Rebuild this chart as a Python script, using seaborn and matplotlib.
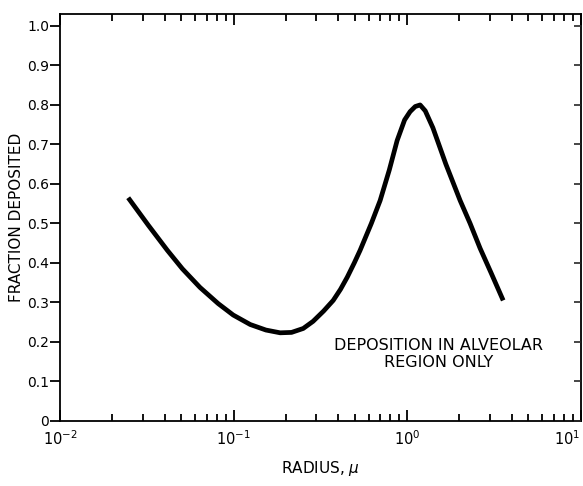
import matplotlib
matplotlib.use("Agg")
import matplotlib.pyplot as plt
import matplotlib.ticker as mticker
import seaborn as sns
import pandas as pd

# Data
radius = [0.0247, 0.0323, 0.0415, 0.0507, 0.064, 0.0815, 0.0995, 0.1247, 0.1536, 0.1855,
          0.2157, 0.252, 0.287, 0.330, 0.375, 0.413, 0.452, 0.496, 0.536, 0.622,
          0.699, 0.789, 0.876, 0.967, 1.04, 1.114, 1.188, 1.272, 1.408, 1.672,
          2.02, 2.306, 2.633, 3.045, 3.577]
fraction = [0.565, 0.495, 0.432, 0.385, 0.338, 0.297, 0.268, 0.244, 0.23, 0.223,
            0.224, 0.234, 0.252, 0.278, 0.305, 0.333, 0.364, 0.40, 0.432, 0.50,
            0.558, 0.635, 0.71, 0.762, 0.783, 0.796, 0.80, 0.785, 0.742, 0.65,
            0.558, 0.50, 0.437, 0.375, 0.305]
ytick_vals = [0, 0.1, 0.2, 0.3, 0.4, 0.5, 0.6, 0.7, 0.8, 0.9, 1.0]
ytick_labels = ["0", "0.1", "0.2", "0.3", "0.4", "0.5", "0.6", "0.7", "0.8", "0.9", "1.0"]
annotation = "DEPOSITION IN ALVEOLAR\nREGION ONLY"

sns.set_style("ticks")
plt.rcParams["font.family"] = ["DejaVu Sans"]
plt.rcParams["text.color"] = "black"
plt.rcParams["axes.labelcolor"] = "black"

df = pd.DataFrame({"radius": radius, "fraction": fraction})

fig = plt.figure(figsize=(5.83, 4.86), dpi=100)
ax = fig.add_axes([0.103, 0.134, 0.893, 0.837])
sns.lineplot(data=df, x="radius", y="fraction", ax=ax, color="black",
             linewidth=3.4, solid_joinstyle="round", solid_capstyle="butt")

ax.set_xscale("log")
ax.set_xlim(0.01, 10)
ax.set_ylim(0, 1.03)

ax.set_yticks(ytick_vals)
ax.set_yticklabels(ytick_labels)
ax.xaxis.set_major_locator(mticker.FixedLocator([0.01, 0.1, 1, 10]))
ax.xaxis.set_major_formatter(mticker.LogFormatterMathtext())
ax.xaxis.set_minor_locator(mticker.LogLocator(base=10, subs=range(2, 10)))
ax.xaxis.set_minor_formatter(mticker.NullFormatter())

for s in ax.spines.values():
    s.set_visible(True)
    s.set_linewidth(1.3)
    s.set_color("black")

ax.tick_params(axis="x", which="both", direction="in", top=True, bottom=True,
               labelsize=10.5, pad=6, colors="black")
ax.tick_params(axis="x", which="major", length=8, width=1.3)
ax.tick_params(axis="x", which="minor", length=5, width=1.3)
ax.tick_params(axis="y", which="major", direction="out", left=True, right=False,
               length=7, width=1.3, labelsize=10, pad=1, colors="black")

# right side inward ticks
axr = ax.twinx()
axr.set_ylim(ax.get_ylim())
axr.set_yticks(ytick_vals)
axr.tick_params(axis="y", direction="in", length=5, width=1.2, labelright=False)
for s in axr.spines.values():
    s.set_visible(False)

ax.set_xlabel("RADIUS, $\\mu$", fontsize=11, labelpad=8)
ax.set_ylabel("FRACTION DEPOSITED", fontsize=11, labelpad=2)

ax.text(1.51, 0.17, annotation, ha="center", va="center", fontsize=11.5,
        linespacing=1.15)

# keep the last decade label inside the figure
fig.canvas.draw()
ax.xaxis.get_major_ticks()[-1].label1.set_horizontalalignment("right")

fig.savefig("out.png", dpi=100)
